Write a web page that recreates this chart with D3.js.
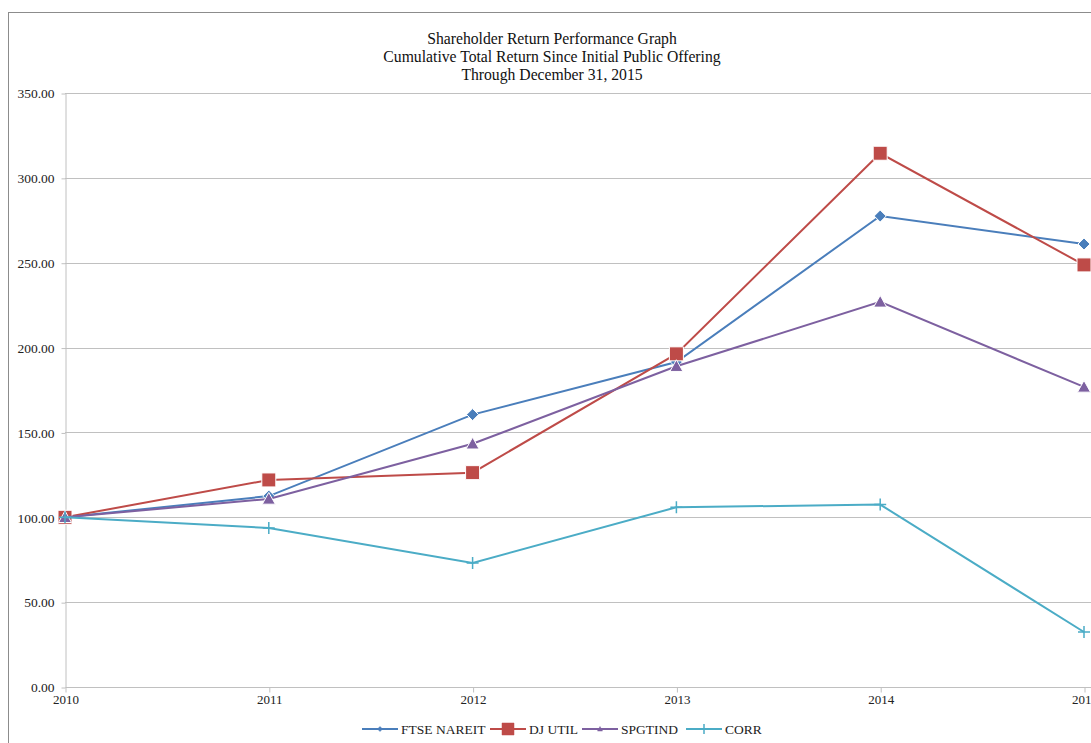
<!DOCTYPE html>
<html lang="en">
<head>
  <meta charset="UTF-8">
  <title>Shareholder Return Performance Graph</title>
  <script src="https://d3js.org/d3.v7.min.js"></script>
</head>
<body style="margin: 0; padding: 0; overflow: hidden; background: #fff;">
  <svg id="chart"></svg>

  <script>
    const years = ["2010", "2011", "2012", "2013", "2014", "2015"];
    const yTicks = [0, 50, 100, 150, 200, 250, 300, 350];
    const titleLines = [
      "Shareholder Return Performance Graph",
      "Cumulative Total Return Since Initial Public Offering",
      "Through December 31, 2015"
    ];

    const ftseNareit = [100, 112.5, 160.5, 191.5, 277.5, 261];
    const djUtil = [100, 122, 126.3, 196.3, 314.5, 248.7];
    const spgtind = [100, 110.8, 143.3, 189, 226.9, 176.8];
    const corr = [100, 93.7, 73.1, 105.9, 107.5, 32.4];

    const series = [
      { name: "FTSE NAREIT", values: ftseNareit, color: "#4a7ebb", marker: "diamond" },
      { name: "DJ UTIL", values: djUtil, color: "#be4b48", marker: "square" },
      { name: "SPGTIND", values: spgtind, color: "#7d60a0", marker: "triangle" },
      { name: "CORR", values: corr, color: "#4bacc6", marker: "plus" }
    ];

    const width = 1091, height = 743;
    const margin = { left: 65, right: 7, top: 93, bottom: 56 };

    const svg = d3.select("#chart")
      .attr("width", width)
      .attr("height", height)
      .style("font-family", "'Liberation Serif', 'Times New Roman', serif");

    // outer frame
    svg.append("rect")
      .attr("x", 8.5).attr("y", 12.5)
      .attr("width", 1200).attr("height", 900)
      .attr("fill", "none")
      .attr("stroke", "#8c8c8c");

    const x = d3.scalePoint()
      .domain(years)
      .range([margin.left, width - margin.right]);

    const y = d3.scaleLinear()
      .domain([0, 350])
      .range([height - margin.bottom, margin.top]);

    // gridlines
    svg.append("g")
      .selectAll("line")
      .data(yTicks.filter(d => d > 0))
      .enter()
      .append("line")
      .attr("x1", margin.left)
      .attr("x2", width)
      .attr("y1", d => Math.round(y(d)) + 0.5)
      .attr("y2", d => Math.round(y(d)) + 0.5)
      .attr("stroke", "#c0c0c0")
      .attr("stroke-width", 1);

    // y axis
    const yAxis = svg.append("g")
      .attr("transform", `translate(${margin.left + 0.5},0.5)`)
      .call(d3.axisLeft(y).tickValues(yTicks).tickFormat(d3.format(".2f")).tickSize(4).tickSizeOuter(0));
    yAxis.select(".domain").attr("stroke", "#c0c0c0");
    yAxis.selectAll(".tick line").attr("stroke", "#c0c0c0");
    yAxis.selectAll(".tick text")
      .attr("fill", "#222")
      .attr("font-size", 13.5)
      .attr("font-family", "'Liberation Serif', serif")
      .attr("x", -11);

    // x axis
    const xAxis = svg.append("g")
      .attr("transform", `translate(0.5,${Math.round(y(0)) + 0.5})`)
      .call(d3.axisBottom(x).tickSize(5).tickSizeOuter(0));
    xAxis.select(".domain").attr("stroke", "#c0c0c0").attr("d", `M${margin.left},0H${width}`);
    xAxis.selectAll(".tick line").attr("stroke", "#c0c0c0");
    xAxis.selectAll(".tick text")
      .attr("fill", "#222")
      .attr("font-size", 13)
      .attr("font-family", "'Liberation Serif', serif")
      .attr("y", 7);

    // title
    svg.append("g")
      .selectAll("text")
      .data(titleLines)
      .enter()
      .append("text")
      .attr("x", 552)
      .attr("y", (d, i) => 44 + i * 18)
      .attr("text-anchor", "middle")
      .attr("font-size", 15.7)
      .attr("fill", "#111")
      .text(d => d);

    function markerPath(type, s) {
      if (type === "diamond") return `M0,${-s}L${s},0L0,${s}L${-s},0Z`;
      if (type === "square") return `M${-s},${-s}H${s}V${s}H${-s}Z`;
      if (type === "triangle") return `M0,${-s}L${s},${s * 0.8}H${-s}Z`;
      return `M${-s},0H${s}M0,${-s}V${s}`;
    }
    const markerSize = { diamond: 6, square: 7, triangle: 6.5, plus: 6 };

    const line = d3.line()
      .x((d, i) => x(years[i]))
      .y(d => y(d));

    series.forEach(s => {
      const g = svg.append("g");
      g.append("path")
        .datum(s.values)
        .attr("d", line)
        .attr("fill", "none")
        .attr("stroke", s.color)
        .attr("stroke-width", 2);

      g.selectAll("path.mk")
        .data(s.values)
        .enter()
        .append("path")
        .attr("class", "mk")
        .attr("transform", (d, i) => `translate(${x(years[i])},${y(d)})`)
        .attr("d", markerPath(s.marker, markerSize[s.marker]))
        .attr("fill", s.marker === "plus" ? "none" : s.color)
        .attr("stroke", s.marker === "plus" ? s.color : "#fff")
        .attr("stroke-width", s.marker === "plus" ? 1.5 : 1);
    });

    // legend
    const legendX = [362, 490, 582, 686];
    const legend = svg.append("g");
    series.forEach((s, i) => {
      const lx = legendX[i], ly = 729;
      legend.append("line")
        .attr("x1", lx).attr("x2", lx + 36)
        .attr("y1", ly).attr("y2", ly)
        .attr("stroke", s.color)
        .attr("stroke-width", 2);
      const ms = s.marker === "square" ? 6 : (s.marker === "plus" ? 5 : 2.5);
      legend.append("path")
        .attr("transform", `translate(${lx + 18},${ly})`)
        .attr("d", markerPath(s.marker, ms))
        .attr("fill", s.marker === "plus" ? "none" : s.color)
        .attr("stroke", s.color)
        .attr("stroke-width", s.marker === "plus" ? 1.5 : 0.5);
      legend.append("text")
        .attr("x", lx + 39)
        .attr("y", ly + 4.5)
        .attr("font-size", 13.5)
        .attr("fill", "#222")
        .text(s.name);
    });
  </script>
</body>
</html>
